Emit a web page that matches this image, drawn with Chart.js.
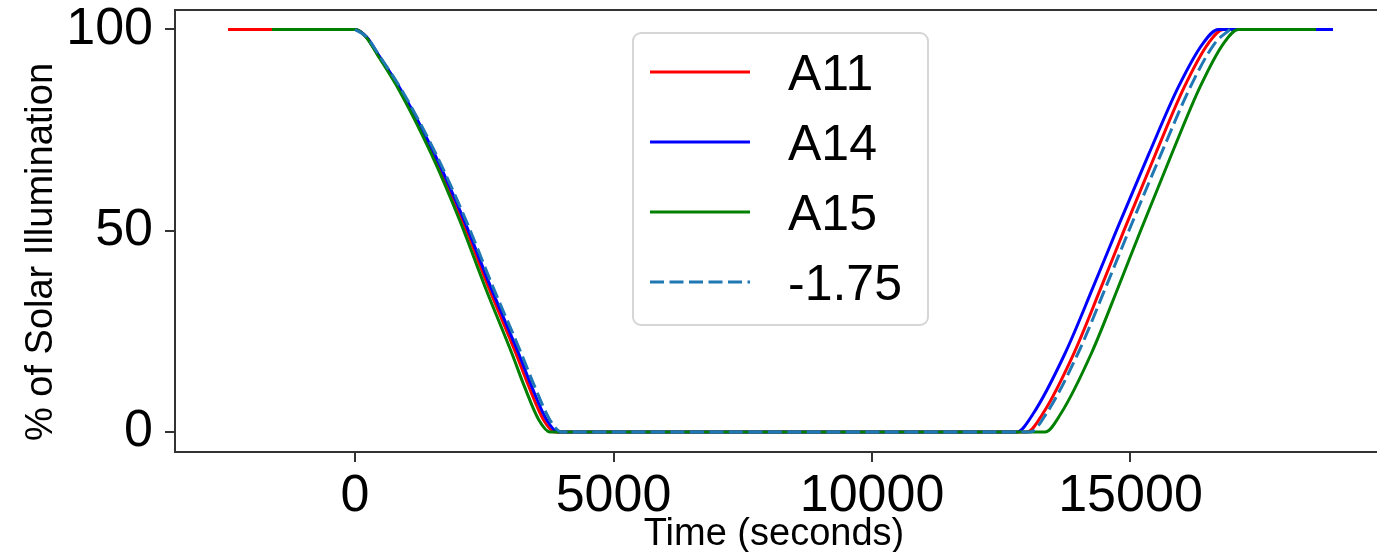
<!DOCTYPE html>
<html>
<head>
<meta charset="utf-8">
<script src="https://cdn.jsdelivr.net/npm/chart.js@4.4.1/dist/chart.umd.min.js"></script>
<style>
html, body { margin: 0; padding: 0; background: #fff; }
#wrap { width: 1377px; height: 552px; }
</style>
</head>
<body>
<div id="wrap"><canvas id="eclipse" width="1377" height="552"></canvas></div>
<script>
// values (time in seconds, % of solar illumination)
var xTicks = [0, 5000, 10000, 15000];
var yTicks = [0, 50, 100];

var a11Time = [-2456, 0, 220, 440, 881, 1509, 2076, 2579, 3113, 3365, 3647, 3868,
               12992, 13305, 13903, 14437, 14878, 15488, 16044, 16502, 16795, 17737];
var a11Pct  = [100, 100, 98.1, 93.8, 84.8, 69.2, 52.6, 36.1, 19.5, 11.2, 3, 0,
               0, 4.6, 19.5, 36.1, 50.2, 69.2, 85.8, 96.5, 100, 100];

var a14Time = [-1605, 0, 224, 447, 896, 1534, 2110, 2622, 3165, 3420, 3708, 3932,
               12799, 13120, 13733, 14281, 14733, 15359, 15929, 16399, 16698, 18917];
var a14Pct  = [100, 100, 98.1, 93.8, 84.8, 69.2, 52.6, 36.1, 19.5, 11.2, 3, 0,
               0, 4.6, 19.5, 36.1, 50.2, 69.2, 85.8, 96.5, 100, 100];

var a15Time = [-1605, 0, 215, 429, 859, 1471, 2024, 2514, 3035, 3280, 3556, 3772,
               13346, 13654, 14242, 14767, 15201, 15801, 16348, 16798, 17085, 18588];
var a15Pct  = [100, 100, 98.1, 93.8, 84.8, 69.2, 52.6, 36.1, 19.5, 11.2, 3, 0,
               0, 4.6, 19.5, 36.1, 50.2, 69.2, 85.8, 96.5, 100, 100];

var m175Time = [0, 228, 455, 911, 1560, 2146, 2666, 3217, 3478, 3770, 3998,
                13056, 13374, 13983, 14526, 14975, 15596, 16161, 16627, 16925];
var m175Pct  = [100, 98.1, 93.8, 84.8, 69.2, 52.6, 36.1, 19.5, 11.2, 3, 0,
                0, 4.6, 19.5, 36.1, 50.2, 69.2, 85.8, 96.5, 100];

function pts(xs, ys) {
  return xs.map(function (x, i) { return { x: x, y: ys[i] }; });
}

var tickFont = { family: '"Liberation Sans", Arial, sans-serif', size: 52 };

// legend drawn inside the plot with a rounded frame, like matplotlib's
var legendBox = {
  id: 'legendBox',
  afterDatasetsDraw: function (chart) {
    var ctx = chart.ctx;
    ctx.save();
    ctx.beginPath();
    ctx.roundRect(633, 33, 295, 292, 8);
    ctx.fillStyle = 'rgba(255,255,255,0.85)';
    ctx.fill();
    ctx.lineWidth = 2;
    ctx.strokeStyle = '#d6d6d6';
    ctx.stroke();
    chart.data.datasets.forEach(function (ds, i) {
      var y = 72 + i * 70;
      ctx.beginPath();
      ctx.setLineDash(ds.borderDash || []);
      ctx.strokeStyle = ds.borderColor;
      ctx.lineWidth = ds.borderWidth;
      ctx.moveTo(650, y);
      ctx.lineTo(750, y);
      ctx.stroke();
      ctx.setLineDash([]);
      ctx.fillStyle = '#000';
      ctx.font = '50px "Liberation Sans", Arial, sans-serif';
      ctx.textBaseline = 'alphabetic';
      ctx.textAlign = 'left';
      ctx.fillText(ds.label, 788, y + 18);
    });
    ctx.restore();
  }
};

// top frame line and the two axis titles
var frameAndTitles = {
  id: 'frameAndTitles',
  afterDraw: function (chart) {
    var ctx = chart.ctx, a = chart.chartArea;
    ctx.save();
    ctx.strokeStyle = '#333';
    ctx.lineWidth = 2;
    ctx.beginPath();
    ctx.moveTo(a.left - 1, a.top);
    ctx.lineTo(a.right, a.top);
    ctx.stroke();

    ctx.fillStyle = '#000';
    ctx.font = '38px "Liberation Sans", Arial, sans-serif';
    ctx.textAlign = 'center';
    ctx.textBaseline = 'alphabetic';
    ctx.fillText('Time (seconds)', 774, 545);

    ctx.translate(52, 252);
    ctx.rotate(-Math.PI / 2);
    ctx.fillText('% of Solar Illumination', 0, 0);
    ctx.restore();
  }
};

new Chart(document.getElementById('eclipse').getContext('2d'), {
  type: 'scatter',
  data: {
    datasets: [
      { label: 'A11', data: pts(a11Time, a11Pct), borderColor: '#ff0000', order: 3 },
      { label: 'A14', data: pts(a14Time, a14Pct), borderColor: '#0000ff', order: 2 },
      { label: 'A15', data: pts(a15Time, a15Pct), borderColor: '#008000', order: 1 },
      { label: '-1.75', data: pts(m175Time, m175Pct), borderColor: '#1f77b4',
        borderDash: [14, 5.5], order: 0 }
    ].map(function (ds) {
      ds.showLine = true;
      ds.pointRadius = 0;
      ds.borderWidth = 3;
      ds.backgroundColor = ds.borderColor;
      ds.cubicInterpolationMode = 'monotone';
      return ds;
    })
  },
  options: {
    responsive: false,
    animation: false,
    layout: { padding: { top: 10, left: 0, right: 0, bottom: 0 } },
    plugins: {
      legend: { display: false },
      tooltip: { enabled: false }
    },
    scales: {
      x: {
        type: 'linear',
        min: -3482,
        max: 19768,
        afterBuildTicks: function (s) { s.ticks = xTicks.map(function (v) { return { value: v }; }); },
        afterFit: function (s) { s.height = 100; s.paddingLeft = 0; s.paddingRight = 0; },
        grid: { drawOnChartArea: false, drawTicks: true, tickLength: 10, color: '#333', lineWidth: 2 },
        border: { display: true, color: '#333', width: 2 },
        ticks: { font: tickFont, color: '#000', padding: 3, maxRotation: 0,
                 callback: function (v) { return String(v); } }
      },
      y: {
        min: -4.97,
        max: 104.84,
        afterBuildTicks: function (s) { s.ticks = yTicks.map(function (v) { return { value: v }; }); },
        afterFit: function (s) { s.width = 175; s.paddingTop = 0; s.paddingBottom = 0; },
        grid: { drawOnChartArea: false, drawTicks: true, tickLength: 10, color: '#333', lineWidth: 2 },
        border: { display: true, color: '#333', width: 2 },
        ticks: { font: tickFont, color: '#000', padding: 12,
                 callback: function (v) { return String(v); } }
      }
    }
  },
  plugins: [legendBox, frameAndTitles]
});
</script>
</body>
</html>
